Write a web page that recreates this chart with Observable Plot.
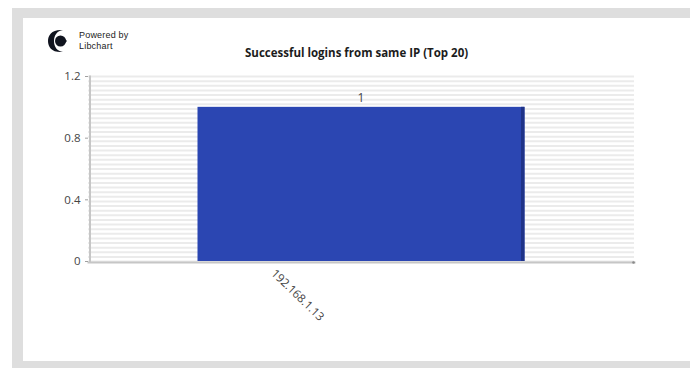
<!DOCTYPE html>
<html>
<head>
<meta charset="utf-8">
<script src="https://cdn.jsdelivr.net/npm/d3@7"></script>
<script src="https://cdn.jsdelivr.net/npm/@observablehq/plot@0.6"></script>
<style>
  html, body { margin: 0; padding: 0; background: #fff; width: 690px; height: 368px; overflow: hidden; }
  #page { position: relative; width: 690px; height: 368px; font-family: "Open Sans", sans-serif; }
  #frame { position: absolute; left: 12px; top: 8px; right: 0; bottom: 0; background: #dedede; }
  #panel { position: absolute; left: 23px; top: 18px; right: 0; bottom: 7px; background: #fff; }
  #chart { position: absolute; left: 0; top: 0; }
  #chart svg { background: transparent; display: block; }
  #logo { position: absolute; left: 46px; top: 28px; }
  .powered { position: absolute; left: 79px; font-family: "Liberation Sans", sans-serif; font-size: 9px; line-height: 10px; letter-spacing: 0.2px; color: #222; white-space: nowrap; }
  #title { position: absolute; left: 245px; top: 45px; font-size: 11.5px; line-height: 16px; font-weight: 700; color: #1c1c1c; white-space: nowrap; }
</style>
</head>
<body>
<div id="page">
  <div id="frame"></div>
  <div id="panel"></div>
  <div id="chart"></div>
  <svg id="logo" width="24" height="26" viewBox="0 0 24 26">
    <path d="M17 2 C6 1 2 7 2 13 C2 19 6 25 17 24 C11 23 8 19 8 13 C8 7 11 3 17 2 Z" fill="#10141f"/>
    <circle cx="14.5" cy="13" r="5.5" fill="#10141f"/>
    <path d="M18 10 L21 13 L18 16 Z" fill="#10141f"/>
  </svg>
  <div class="powered" style="top: 30px">Powered by</div>
  <div class="powered" style="top: 41px">Libchart</div>
  <div id="title">Successful logins from same IP (Top 20)</div>
</div>
<script>
// Login counts per source address
const addresses = ["192.168.1.13"];
const logins = [1];
const yTicks = [0, 0.4, 0.8, 1.2];
const stripeStep = 0.03;

const rows = addresses.map((address, i) => ({address, count: logins[i]}));
const stripes = d3.range(0, 1.2 + stripeStep / 2, stripeStep);

const chart = Plot.plot({
  width: 690,
  height: 368,
  marginLeft: 88,
  marginRight: 56,
  marginTop: 76,
  marginBottom: 107,
  style: {background: "transparent", fontFamily: "'Open Sans', sans-serif"},
  x: {domain: addresses, padding: 0.25, label: null, axis: null},
  y: {domain: [0, 1.2], label: null, axis: null},
  marks: [
    // banded background
    Plot.ruleY(stripes, {stroke: "#ebebeb", strokeWidth: 2}),
    // axis lines
    Plot.frame({anchor: "left", stroke: "#c6c6c6", strokeWidth: 2, dx: 1.5}),
    Plot.frame({anchor: "bottom", stroke: "#c6c6c6", strokeWidth: 2, dy: 1}),
    // y ticks and labels
    Plot.axisY({
      ticks: yTicks,
      tickFormat: d => String(d),
      tickSize: 3,
      tickPadding: 5,
      stroke: "#a0a0a0",
      fill: "#444",
      fontSize: 11.5,
      label: null
    }),
    // end tick on the category axis
    Plot.dot([0], {y: d => d, frameAnchor: "right", r: 1.3, fill: "#8a8a8a", dy: 1, dx: -1}),
    // bar with its darker side face
    Plot.barY(rows, {x: "address", y: "count", fill: "#2b46b2", dx: -0.5}),
    Plot.barY(rows, {x: "address", y: "count", fill: "#1f3388", insetLeft: 323.5, dx: -0.5}),
    // value above the bar
    Plot.text(rows, {
      x: "address", y: "count", text: d => String(d.count),
      dy: -9, dx: -1, fontSize: 12, fill: "#444"
    }),
    // rotated category label
    Plot.text(rows, {
      x: "address", y: () => 0, text: "address",
      rotate: 44, textAnchor: "start", dx: -89, dy: 10,
      fontSize: 11.5, fill: "#444"
    })
  ]
});
document.getElementById("chart").append(chart);
</script>
</body>
</html>
